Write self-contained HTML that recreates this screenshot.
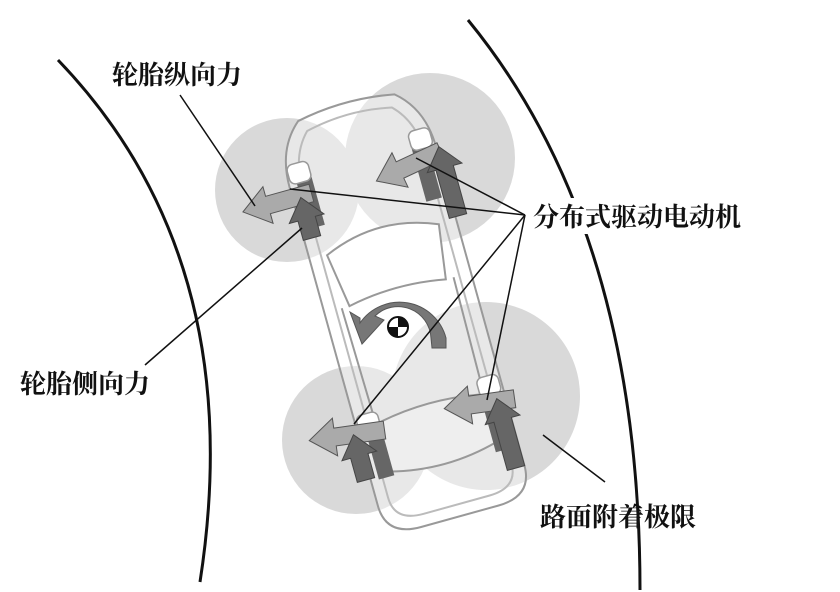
<!DOCTYPE html>
<html><head><meta charset="utf-8"><style>
html,body{margin:0;padding:0;background:#fff;}
svg{display:block}
text{font-family:"Liberation Serif","Noto Serif CJK SC","Noto Sans CJK SC",serif;font-size:26px;font-weight:bold;fill:#111}
</style></head><body>
<svg width="840" height="592" viewBox="0 0 840 592" xmlns="http://www.w3.org/2000/svg">
<rect width="840" height="592" fill="#fff"/>
<path d="M58,60 Q250,260 200,582" fill="none" stroke="#111" stroke-width="3"/>
<path d="M468,20 Q640,230 640,590" fill="none" stroke="#111" stroke-width="3"/>
<g fill="#d9d9d9">
<circle cx="287" cy="190" r="72"/>
<circle cx="430" cy="158" r="85"/>
<circle cx="356" cy="440" r="74"/>
<circle cx="486" cy="396" r="94"/>
</g>
<g transform="translate(403,312) rotate(-15.5)" fill="none" stroke="#999" stroke-width="2">
<path d="M-50,-212 Q0,-222 50,-212 Q76,-190 76,-150 L76,180 Q76,212 40,212 L-40,212 Q-76,212 -76,180 L-76,-150 Q-76,-190 -50,-212 Z" fill="rgba(255,255,255,0.4)"/>
<path d="M-44,-200 Q0,-210 44,-200 Q64,-180 64,-145 L64,175 Q64,200 34,200 L-34,200 Q-64,200 -64,175 L-64,-145 Q-64,-180 -44,-200 Z" stroke="#bbb"/>
<path d="M-58,-75 Q0,-100 58,-75 L50,-20 Q0,-30 -50,-20 Z" fill="#fff"/>
<path d="M-52,100 Q0,90 52,100 L56,150 Q0,165 -56,150 Z" fill="#eee"/>
<line x1="-58" y1="-20" x2="-56" y2="100"/>
<line x1="58" y1="-20" x2="56" y2="100"/>
<g fill="#666" stroke="none">
<rect x="-68" y="-160" width="16" height="55"/>
<rect x="52" y="-160" width="16" height="60"/>
<rect x="-68" y="100" width="16" height="55"/>
<rect x="52" y="95" width="16" height="65"/>
</g>
<g fill="#fff" stroke="#999" stroke-width="1.5">
<rect x="-74" y="-172" width="22" height="20" rx="6"/>
<rect x="52" y="-172" width="22" height="20" rx="6"/>
<rect x="-74" y="88" width="22" height="20" rx="6"/>
<rect x="52" y="84" width="22" height="20" rx="6"/>
</g>
</g>
<g fill="#aaa" stroke="#555" stroke-width="1">
<path d="M0,-9 L45,-9 L45,9 L0,9 L0,19 L-26,0 L0,-19 Z" transform="translate(268,205) rotate(-15.5)"/>
<path d="M0,-9 L45,-9 L45,9 L0,9 L0,19 L-26,0 L0,-19 Z" transform="translate(400,170) rotate(-25)"/>
<path d="M0,-9 L50,-9 L50,9 L0,9 L0,19 L-26,0 L0,-19 Z" transform="translate(335,437) rotate(-8)"/>
<path d="M0,-9 L45,-9 L45,9 L0,9 L0,19 L-26,0 L0,-19 Z" transform="translate(470,405) rotate(-8)"/>
</g>
<g fill="#666" stroke="#444" stroke-width="1">
<path d="M-9,0 L-9,-20 L-18,-20 L0,-42 L18,-20 L9,-20 L9,0 Z" transform="translate(312,238) rotate(-15.5)"/>
<path d="M-9,0 L-9,-50 L-18,-50 L0,-72 L18,-50 L9,-50 L9,0 Z" transform="translate(458,216) rotate(-15.5)"/>
<path d="M-9,0 L-9,-25 L-18,-25 L0,-47 L18,-25 L9,-25 L9,0 Z" transform="translate(366,480) rotate(-15.5)"/>
<path d="M-9,0 L-9,-50 L-18,-50 L0,-72 L18,-50 L9,-50 L9,0 Z" transform="translate(516,468) rotate(-15.5)"/>
</g>
<path d="M360,323 A48,48 0 0 1 446,338 L446,348 L432,348 L431,338 A33,33 0 0 0 375,316 L384,320 L362,344 L350,312 L360,318 Z" fill="#777" stroke="#555" stroke-width="1"/>
<circle cx="398" cy="327" r="10" fill="#fff" stroke="#111" stroke-width="2"/>
<path d="M398,317 A10,10 0 0 1 408,327 L398,327 Z M398,337 A10,10 0 0 1 388,327 L398,327 Z" fill="#111"/>
<g stroke="#111" stroke-width="1.5">
<line x1="180" y1="95" x2="255" y2="206"/>
<line x1="145" y1="365" x2="302" y2="228"/>
<line x1="525" y1="215" x2="290" y2="189"/>
<line x1="525" y1="215" x2="416" y2="158"/>
<line x1="525" y1="215" x2="354" y2="424"/>
<line x1="525" y1="215" x2="487" y2="400"/>
<line x1="543" y1="435" x2="605" y2="482"/>
</g>
<rect x="532" y="198" width="262" height="36" fill="#fff"/>
<text x="112" y="84">轮胎纵向力</text>
<text x="533" y="226">分布式驱动电动机</text>
<text x="20" y="393">轮胎侧向力</text>
<text x="540" y="526">路面附着极限</text>
</svg>
</body></html>
